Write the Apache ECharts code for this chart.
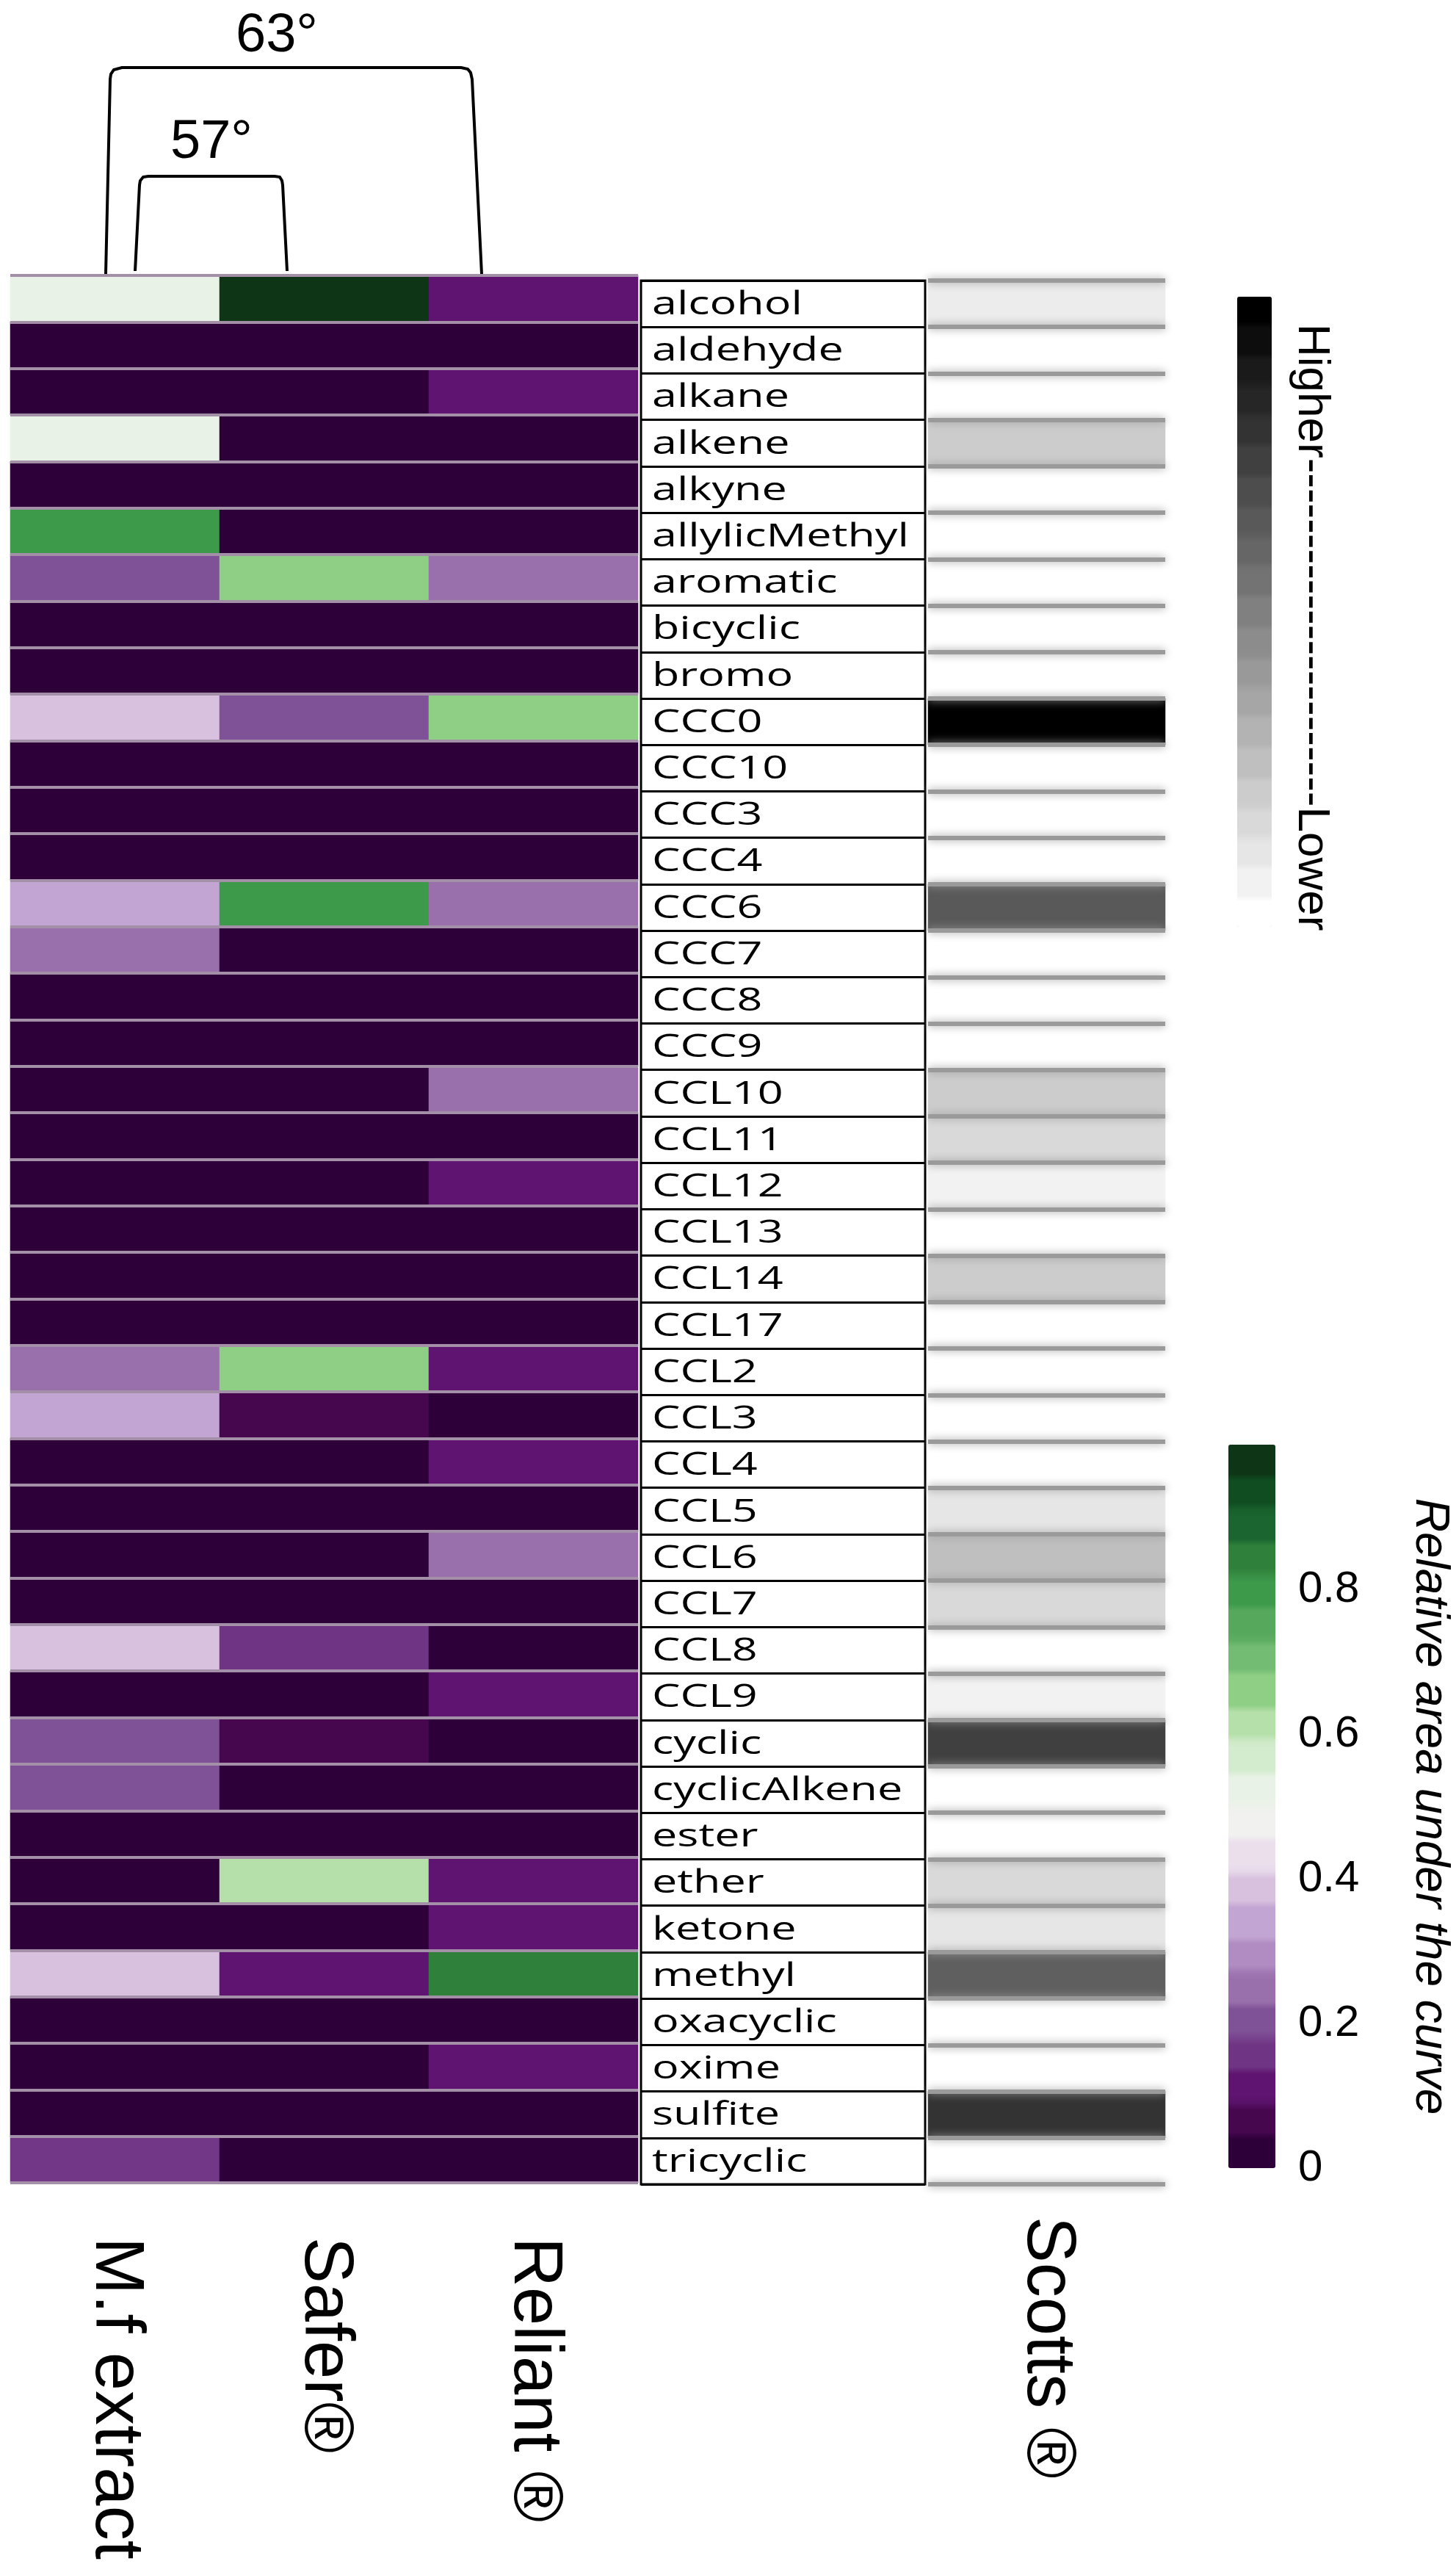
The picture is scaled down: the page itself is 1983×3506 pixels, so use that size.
<!DOCTYPE html>
<html>
<head>
<meta charset="utf-8">
<script src="https://cdn.jsdelivr.net/npm/echarts@6/dist/echarts.min.js"></script>
<style>
html,body{margin:0;padding:0;background:#ffffff;}
#chart{width:1983px;height:3506px;}
</style>
</head>
<body>
<div id="chart"></div>
<script>
// ---- data ----
const rowLabels = ['alcohol','aldehyde','alkane','alkene','alkyne','allylicMethyl','aromatic','bicyclic','bromo',
  'CCC0','CCC10','CCC3','CCC4','CCC6','CCC7','CCC8','CCC9','CCL10','CCL11','CCL12','CCL13','CCL14','CCL17',
  'CCL2','CCL3','CCL4','CCL5','CCL6','CCL7','CCL8','CCL9','cyclic','cyclicAlkene','ester','ether','ketone',
  'methyl','oxacyclic','oxime','sulfite','tricyclic'];
const sampleLabels = ['M.f extract','Safer®','Reliant ®'];
const scottsLabels = ['Scotts ®'];

const mfExtract = [0.52,0,0,0.52,0,0.80,0.20,0,0,0.38,0,0,0,0.34,0.25,0,0,0,0,0,0,0,0,0.25,0.34,0,0,0,0,0.38,0,0.20,0.20,0,0,0,0.38,0,0,0,0.178];
const safer     = [0.98,0,0,0,0,0,0.66,0,0,0.20,0,0,0,0.80,0,0,0,0,0,0,0,0,0,0.66,0.065,0,0,0,0,0.16,0,0.065,0,0,0.61,0,0.11,0,0,0,0];
const reliant   = [0.11,0,0.11,0,0,0,0.25,0,0,0.66,0,0,0,0.25,0,0,0,0.25,0,0.11,0,0,0,0.11,0,0.11,0,0.25,0,0,0.11,0,0,0,0.11,0.11,0.845,0,0.11,0,0];
const scotts    = [0.093,0,0,0.22,0,0,0,0,0,0.98,0,0,0,0.65,0,0,0,0.211,0.163,0.066,0,0.211,0,0,0,0,0.114,0.26,0.17,0,0.066,0.74,0,0,0.163,0.114,0.62,0,0,0.79,0];

const aucTicks = [0, 0.2, 0.4, 0.6, 0.8];

// ---- colour scales (banded) ----
const prgnBands = ['#2e0039','#46074f','#5e1470','#703484','#7f5297','#9a70ac','#b08cc2','#c3a5d3','#d8c1df','#ebdfec','#f1f1f0',
  '#e9f2e6','#d3ecce','#b5e0aa','#8fcf85','#72bd73','#56a95c','#3d9a4b','#2f803b','#1a6530','#104d21','#0d3516'];
const grayBands = ['#ffffff','#f2f2f2','#e6e6e6','#d9d9d9','#cccccc','#bfbfbf','#b3b3b3','#a6a6a6','#999999','#8c8c8c','#808080',
  '#737373','#666666','#595959','#4d4d4d','#404040','#333333','#262626','#1a1a1a','#0d0d0d','#000000'];
function banded(list, k){ const out=[]; list.forEach(c=>{ for(let i=0;i<k;i++) out.push(c); }); return out; }

// ---- build series data ----
const mainData = [];
[mfExtract, safer, reliant].forEach((arr, xi) => arr.forEach((v, yi) => mainData.push([xi, yi, v])));
const scottsData = scotts.map((v, yi) => [0, yi, v]);
const labelData = rowLabels.map((n, yi) => [0, yi]);

const FONT = 'Liberation Sans, Arial, sans-serif';

const chart = echarts.init(document.getElementById('chart'), null, {renderer:'canvas', width:1983, height:3506});

const option = {
  backgroundColor: '#ffffff',
  animation: false,
  grid: [
    {left: 14, top: 375, width: 855, height: 2597},
    {left: 873, top: 382, width: 387, height: 2592, show: true, backgroundColor: '#ffffff', borderColor: '#000000', borderWidth: 3},
    {left: 1264, top: 382, width: 323, height: 2592},
    {left: 1690, top: 1967, width: 47, height: 985}
  ],
  xAxis: [
    {gridIndex: 0, type: 'category', data: sampleLabels, position: 'bottom',
      axisLine: {show: false}, axisTick: {show: false}, splitLine: {show: false},
      axisLabel: {rotate: -90, margin: 74, fontSize: 94, fontFamily: FONT, color: '#000', padding: [0,0,30,0]}},
    {gridIndex: 1, type: 'value', min: 0, max: 1, show: false},
    {gridIndex: 2, type: 'category', data: scottsLabels, position: 'bottom',
      axisLine: {show: false}, axisTick: {show: false}, splitLine: {show: false},
      axisLabel: {rotate: -90, margin: 44, fontSize: 94, fontFamily: FONT, color: '#000'}},
    {gridIndex: 3, type: 'value', min: 0, max: 1, show: false}
  ],
  yAxis: [
    {gridIndex: 0, type: 'category', data: rowLabels, inverse: true, z: 3,
      axisLine: {show: false}, axisTick: {show: false}, axisLabel: {show: false},
      splitLine: {show: true, lineStyle: {color: '#a48fa9', width: 4}}},
    {gridIndex: 1, type: 'category', data: rowLabels, inverse: true, z: 3,
      axisLine: {show: false}, axisTick: {show: false}, axisLabel: {show: false},
      splitLine: {show: true, lineStyle: {color: '#000000', width: 3}}},
    {gridIndex: 2, type: 'category', data: rowLabels, inverse: true, z: 3,
      axisLine: {show: false}, axisTick: {show: false}, axisLabel: {show: false},
      splitLine: {show: true, lineStyle: {color: '#9a9a9a', width: 6, shadowBlur: 12, shadowColor: '#9a9a9a'}}},
    {gridIndex: 3, type: 'value', min: 0, max: 1, interval: 0.2, position: 'right',
      axisLine: {show: false}, axisTick: {show: false}, splitLine: {show: false},
      axisLabel: {margin: 31, fontSize: 60, fontFamily: FONT, color: '#000',
        formatter: function(v){ return aucTicks.some(t => Math.abs(t - v) < 1e-6) ? String(+v.toFixed(1)) : ''; }},
      name: 'Relative area under the curve', nameLocation: 'middle', nameRotate: -90, nameGap: 178,
      nameTextStyle: {fontSize: 64, fontStyle: 'italic', fontFamily: FONT, color: '#000'}}
  ],
  visualMap: [
    {type: 'continuous', seriesIndex: 0, min: 0, max: 1, calculable: false, hoverLink: false,
      orient: 'vertical', left: 1673, top: 1967, itemWidth: 64, itemHeight: 985, padding: 0,
      inRange: {color: banded(prgnBands, 8)}},
    {type: 'continuous', seriesIndex: 1, min: 0, max: 1, calculable: false, hoverLink: false,
      orient: 'vertical', left: 1685, top: 404, itemWidth: 47, itemHeight: 858, padding: 0,
      inRange: {color: banded(grayBands, 8)}}
  ],
  series: [
    {type: 'heatmap', xAxisIndex: 0, yAxisIndex: 0, data: mainData, itemStyle: {borderWidth: 0}},
    {type: 'heatmap', xAxisIndex: 2, yAxisIndex: 2, data: scottsData, itemStyle: {borderWidth: 0}},
    {type: 'custom', xAxisIndex: 1, yAxisIndex: 1, data: labelData, z: 5,
      renderItem: function(params, api){
        const p = api.coord([0, api.value(1)]);
        return {type: 'text', x: p[0] + 15, y: p[1] + 2, scaleX: 1.42,
          style: {text: rowLabels[params.dataIndex], fontSize: 43, fontWeight: 500, fontFamily: 'Open Sans, sans-serif',
            fill: '#000', align: 'left', verticalAlign: 'middle'}};
      }}
  ],
  graphic: [
    {type: 'polyline', shape: {points: [[144,373],[150,108],[151,101],[155,95],[166,92],[628,92],[637,94],[641,99],[643,108],[656,373]]},
      style: {fill: null, stroke: '#000', lineWidth: 4}},
    {type: 'polyline', shape: {points: [[184,369],[190,252],[191,246],[195,241],[202,240],[374,240],[381,241],[384,246],[385,252],[391,369]]},
      style: {fill: null, stroke: '#000', lineWidth: 4}},
    {type: 'text', x: 377, y: 50, style: {text: '63°', fontSize: 74, fontFamily: FONT, fill: '#000', align: 'center', verticalAlign: 'middle'}},
    {type: 'text', x: 288, y: 195, style: {text: '57°', fontSize: 74, fontFamily: FONT, fill: '#000', align: 'center', verticalAlign: 'middle'}},
    {type: 'text', x: 1786, y: 441, rotation: -Math.PI / 2,
      style: {text: 'Higher' + '-'.repeat(23) + 'Lower', fontSize: 62, fontFamily: FONT, fill: '#000', align: 'left', verticalAlign: 'middle'}}
  ]
};
chart.setOption(option);
</script>
</body>
</html>
